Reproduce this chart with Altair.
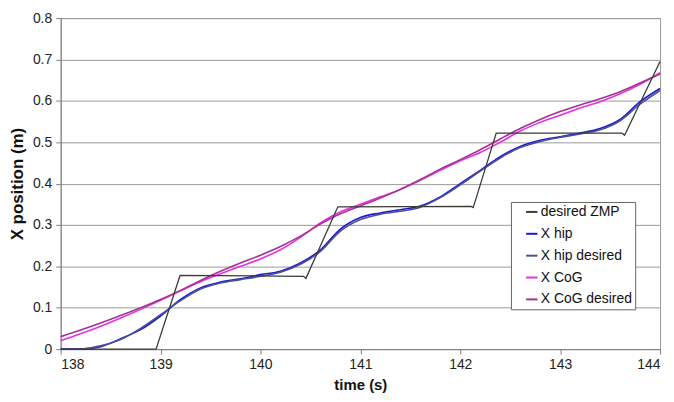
import altair as alt
import pandas as pd

# time grid (s) for the smooth series
t_smooth = [138.0, 138.2, 138.4, 138.6, 138.8, 139.0, 139.2, 139.4, 139.6, 139.8,
            140.0, 140.2, 140.4, 140.6, 140.8, 141.0, 141.2, 141.4, 141.6, 141.8,
            142.0, 142.2, 142.4, 142.6, 142.8, 143.0, 143.2, 143.4, 143.6, 143.8, 144.0]

x_hip = [0.0, 0.0, 0.006, 0.025, 0.047, 0.08, 0.12, 0.148, 0.162, 0.17,
         0.18, 0.188, 0.208, 0.24, 0.29, 0.318, 0.329, 0.337, 0.346, 0.368,
         0.4, 0.432, 0.465, 0.49, 0.505, 0.513, 0.522, 0.533, 0.555, 0.598, 0.63]

x_hip_desired = [0.0, 0.0, 0.008, 0.023, 0.05, 0.083, 0.117, 0.145, 0.16, 0.168,
                 0.176, 0.186, 0.205, 0.236, 0.285, 0.313, 0.326, 0.333, 0.343, 0.366,
                 0.397, 0.43, 0.462, 0.487, 0.502, 0.512, 0.52, 0.53, 0.552, 0.592, 0.625]

x_cog = [0.02, 0.037, 0.055, 0.075, 0.096, 0.118, 0.141, 0.163, 0.182, 0.2,
         0.218, 0.24, 0.27, 0.305, 0.332, 0.35, 0.368, 0.386, 0.408, 0.432,
         0.455, 0.475, 0.5, 0.527, 0.548, 0.565, 0.583, 0.598, 0.617, 0.64, 0.668]

x_cog_desired = [0.03, 0.046, 0.063, 0.081, 0.1, 0.12, 0.142, 0.166, 0.188, 0.208,
                 0.227, 0.248, 0.273, 0.302, 0.327, 0.346, 0.365, 0.386, 0.41, 0.435,
                 0.458, 0.482, 0.508, 0.533, 0.555, 0.574, 0.59, 0.605, 0.622, 0.643, 0.665]

# desired ZMP corner points
t_zmp = [138.0, 138.955, 139.195, 140.43, 140.455, 140.775, 142.11, 142.13, 142.36, 143.62, 143.645, 144.0]
zmp = [0.0, 0.0, 0.178, 0.176, 0.171, 0.344, 0.345, 0.342, 0.522, 0.522, 0.517, 0.695]

series_names = ["desired ZMP", "X hip", "X hip desired", "X CoG", "X CoG desired"]
series_colors = ["#3a3a3a", "#1a1ad0", "#4e4e96", "#e62ee6", "#a0368e"]

frames = []
for name, vals in [("X hip", x_hip), ("X hip desired", x_hip_desired),
                   ("X CoG", x_cog), ("X CoG desired", x_cog_desired)]:
    frames.append(pd.DataFrame({"t": t_smooth, "v": vals, "series": name}))
smooth_df = pd.concat(frames, ignore_index=True)
zmp_df = pd.DataFrame({"t": t_zmp, "v": zmp, "series": "desired ZMP"})

color = alt.Color(
    "series:N",
    scale=alt.Scale(domain=series_names, range=series_colors),
    legend=alt.Legend(
        title=None, orient="none", legendX=453, legendY=185,
        symbolType="stroke", symbolSize=130, symbolStrokeWidth=2,
        symbolOffset=11, labelOffset=2, labelFontSize=14,
        labelFont="Liberation Sans", labelColor="#111",
        rowPadding=8, padding=3, strokeColor="#666", fillColor="white",
    ),
)

xenc = alt.X("t:Q", scale=alt.Scale(domain=[138, 144], nice=False),
             axis=alt.Axis(title="time (s)", values=[138, 139, 140, 141, 142, 143, 144],
                           format="d", grid=False, tickSize=5, labelPadding=4,
                           titlePadding=6))
yenc = alt.Y("v:Q", scale=alt.Scale(domain=[0, 0.8], nice=False),
             axis=alt.Axis(title="X position (m)",
                           values=[0, 0.1, 0.2, 0.3, 0.4, 0.5, 0.6, 0.7, 0.8],
                           format=".1~f", grid=True, tickSize=5, labelPadding=4,
                           titlePadding=6, titleFontSize=17))

smooth = alt.Chart(smooth_df).mark_line(interpolate="monotone", strokeWidth=1.6).encode(
    x=xenc, y=yenc, color=color, detail="series:N")

zmp_line = alt.Chart(zmp_df).mark_line(strokeWidth=1.3).encode(
    x=xenc, y=yenc, color=color)

chart = alt.layer(smooth, zmp_line).properties(
    width=603, height=333,
    autosize=alt.AutoSizeParams(type="none"),
    padding={"left": 53, "top": 9, "right": 6, "bottom": 44},
    background="white",
).configure_view(
    stroke="#9a9a9a", strokeWidth=1
).configure_axis(
    labelFont="Liberation Sans", labelFontSize=14, labelColor="#222",
    titleFont="Liberation Sans", titleFontSize=15, titleFontWeight="bold",
    titleColor="#111", domainColor="#808080", tickColor="#808080",
    gridColor="#9a9a9a", gridWidth=1,
)

chart.save("out.html", embed_options={"renderer": "svg", "actions": False})
